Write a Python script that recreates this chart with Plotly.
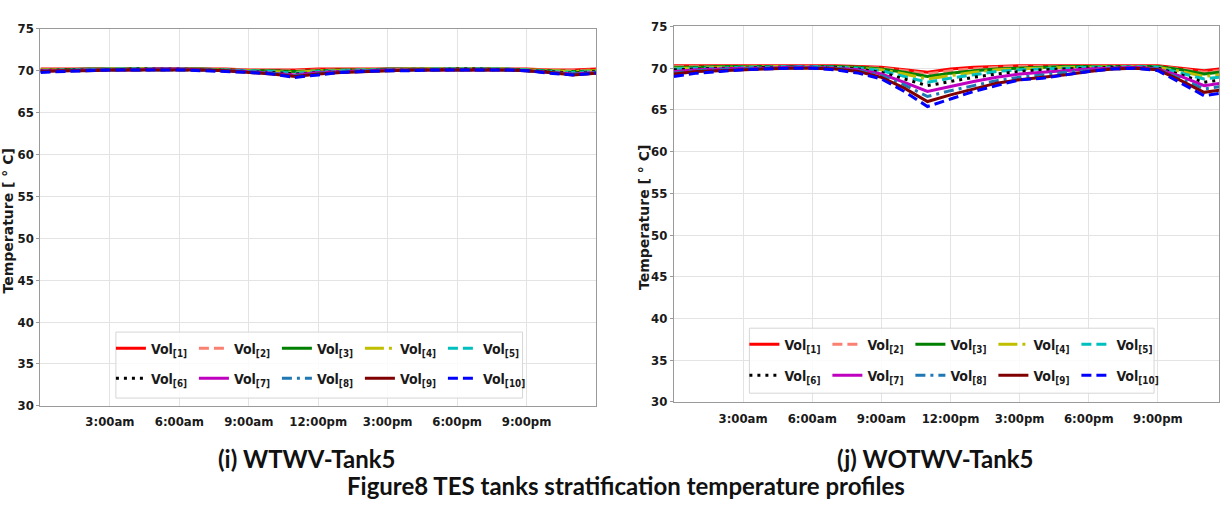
import plotly.graph_objects as go

W, H = 1220, 506

hours = list(range(25))
tick_vals = [3, 6, 9, 12, 15, 18, 21]
tick_text = ["3:00am", "6:00am", "9:00am", "12:00pm", "3:00pm", "6:00pm", "9:00pm"]
y_ticks = [30, 35, 40, 45, 50, 55, 60, 65, 70, 75]
series_names = ["Vol<sub>[%d]</sub>" % i for i in range(1, 11)]

# (i) WTWV-Tank5
wt_v1 = [70.2,70.2,70.2,70.2,70.2,70.2,70.2,70.2,70.2,70.1,70.1,70.1,70.2,70.2,70.2,70.2,70.2,70.2,70.2,70.2,70.2,70.2,70.1,70.1,70.2]
wt_v2 = [70.1,70.2,70.2,70.2,70.2,70.2,70.2,70.2,70.1,70.1,70.0,70.0,70.1,70.1,70.2,70.2,70.2,70.2,70.2,70.2,70.2,70.1,70.1,70.0,70.1]
wt_v3 = [70.1,70.1,70.2,70.2,70.2,70.2,70.2,70.2,70.1,70.0,70.0,69.9,70.0,70.1,70.1,70.2,70.2,70.2,70.2,70.2,70.2,70.1,70.0,69.9,70.0]
wt_v4 = [70.1,70.1,70.1,70.2,70.2,70.2,70.2,70.1,70.1,70.0,69.9,69.8,70.0,70.0,70.1,70.1,70.2,70.2,70.2,70.2,70.2,70.1,70.0,69.9,70.0]
wt_v5 = [70.0,70.1,70.1,70.2,70.2,70.2,70.2,70.1,70.1,70.0,69.9,69.7,69.9,70.0,70.1,70.1,70.1,70.2,70.2,70.2,70.2,70.1,69.9,69.8,69.9]
wt_v6 = [70.0,70.1,70.1,70.1,70.2,70.2,70.2,70.1,70.0,69.9,69.8,69.6,69.8,69.9,70.0,70.1,70.1,70.1,70.2,70.2,70.1,70.0,69.9,69.7,69.9]
wt_v7 = [70.0,70.0,70.1,70.1,70.1,70.2,70.2,70.1,70.0,69.9,69.7,69.5,69.8,69.9,70.0,70.1,70.1,70.1,70.1,70.1,70.1,70.0,69.8,69.6,69.8]
wt_v8 = [69.9,70.0,70.1,70.1,70.1,70.1,70.1,70.1,70.0,69.9,69.7,69.4,69.7,69.9,70.0,70.0,70.1,70.1,70.1,70.1,70.1,70.0,69.8,69.6,69.8]
wt_v9 = [69.9,70.0,70.0,70.1,70.1,70.1,70.1,70.1,70.0,69.8,69.6,69.3,69.6,69.8,69.9,70.0,70.1,70.1,70.1,70.1,70.1,70.0,69.8,69.5,69.7]
wt_v10 = [69.8,69.9,70.0,70.1,70.1,70.1,70.1,70.0,69.9,69.8,69.6,69.2,69.5,69.8,69.9,70.0,70.0,70.1,70.1,70.1,70.1,70.0,69.7,69.5,69.7]

# (j) WOTWV-Tank5
wo_v1 = [70.3,70.3,70.3,70.3,70.3,70.3,70.3,70.3,70.2,70.1,69.8,69.5,69.9,70.1,70.2,70.3,70.3,70.3,70.3,70.3,70.3,70.3,70.0,69.7,70.0]
wo_v2 = [70.2,70.2,70.2,70.2,70.2,70.2,70.2,70.2,70.1,70.0,69.7,69.3,69.7,69.9,70.1,70.2,70.2,70.2,70.2,70.2,70.2,70.2,69.9,69.5,69.8]
wo_v3 = [70.1,70.1,70.2,70.2,70.2,70.2,70.2,70.2,70.1,69.9,69.5,69.0,69.4,69.7,69.9,70.0,70.1,70.2,70.2,70.2,70.2,70.2,69.8,69.3,69.6]
wo_v4 = [70.0,70.0,70.1,70.1,70.2,70.2,70.2,70.1,70.0,69.8,69.3,68.7,69.1,69.5,69.8,69.9,70.0,70.1,70.1,70.2,70.2,70.1,69.6,69.0,69.3]
wo_v5 = [69.9,70.0,70.0,70.1,70.1,70.2,70.2,70.1,70.0,69.7,69.0,68.3,68.8,69.2,69.6,69.8,69.9,70.0,70.1,70.1,70.2,70.1,69.4,68.7,69.0]
wo_v6 = [69.8,69.9,70.0,70.0,70.1,70.1,70.1,70.1,69.9,69.5,68.7,67.9,68.4,68.9,69.3,69.6,69.8,69.9,70.0,70.1,70.1,70.0,69.2,68.3,68.7]
wo_v7 = [69.6,69.8,69.9,70.0,70.0,70.1,70.1,70.0,69.8,69.3,68.3,67.2,67.8,68.4,68.9,69.3,69.5,69.7,69.9,70.0,70.1,69.9,69.0,67.9,68.3]
wo_v8 = [69.4,69.7,69.8,69.9,70.0,70.0,70.1,70.0,69.7,69.1,68.0,66.6,67.3,67.9,68.5,68.9,69.2,69.5,69.7,69.9,70.0,69.9,68.7,67.5,67.9]
wo_v9 = [69.3,69.6,69.7,69.8,69.9,70.0,70.0,69.9,69.6,68.9,67.6,66.0,66.8,67.5,68.2,68.6,68.9,69.2,69.6,69.9,70.0,69.8,68.5,67.1,67.5]
wo_v10 = [69.0,69.4,69.6,69.8,69.9,70.0,70.0,69.8,69.4,68.7,67.2,65.4,66.3,67.2,67.9,68.6,68.8,69.2,69.6,69.9,70.0,69.7,68.2,66.7,67.1]

wt_series = [wt_v1, wt_v2, wt_v3, wt_v4, wt_v5, wt_v6, wt_v7, wt_v8, wt_v9, wt_v10]
wo_series = [wo_v1, wo_v2, wo_v3, wo_v4, wo_v5, wo_v6, wo_v7, wo_v8, wo_v9, wo_v10]

# styles
colors = ["#ff0000", "#fa8072", "#008000", "#bfbf00", "#00bfbf",
          "#000000", "#bf00bf", "#1f77b4", "#800000", "#0000ff"]
dashes = ["solid", "10px,5px", "solid", "19px,5px,3px,5px", "10px,5px",
          "3px,5px", "solid", "10px,5px,3px,5px", "solid", "10px,5px"]

NARROW = "Liberation Sans Narrow, DejaVu Sans Condensed, Arial Narrow, Roboto Condensed, Lato, sans-serif"
tick_font = dict(family=NARROW, size=13, color="#1a1a1a", weight="bold")
leg_font = dict(family=NARROW, size=14, color="#1a1a1a", weight="bold")

fig = go.Figure()

def px_x(p):
    return p / W

def px_y(p):
    return 1 - p / H

legend_ids = [["legend", "legend2"], ["legend3", "legend4"]]
for panel, (series, xa, ya) in enumerate([(wt_series, "x", "y"), (wo_series, "x2", "y2")]):
    for i, vals in enumerate(series):
        fig.add_trace(go.Scatter(
            x=hours, y=vals, mode="lines", name=series_names[i],
            xaxis=xa, yaxis=ya,
            line=dict(color=colors[i], width=3, dash=dashes[i]),
            legend=legend_ids[panel][0 if i < 5 else 1],
            showlegend=True,
        ))

axis_common = dict(
    showgrid=True, gridcolor="#e3e3e3", gridwidth=1,
    showline=True, linecolor="#9a9a9a", linewidth=1, mirror=True,
    tickfont=tick_font, zeroline=False,
)

# pixel geometry
L_x0, L_x1 = 40.5, 596.5
L_ytop, L_ybot = 22.5, 411
R_x0, R_x1 = 674.5, 1220
R_ytop, R_ybot = 20, 407
R_hours = (R_x1 - R_x0) / ((1160 - 814) / 15.0)

fig.update_layout(
    width=W, height=H,
    margin=dict(l=0, r=0, t=0, b=0),
    paper_bgcolor="white", plot_bgcolor="white",
    xaxis=dict(domain=[px_x(L_x0), px_x(L_x1)], range=[0, 24], tickvals=tick_vals,
               ticktext=tick_text, anchor="y", ticks="", ticklabelstandoff=4, **axis_common),
    yaxis=dict(domain=[px_y(L_ybot), px_y(L_ytop)], range=[30, 75], tickvals=y_ticks,
               anchor="x", ticks="outside", ticklen=3, tickcolor="#9a9a9a", **axis_common),
    xaxis2=dict(domain=[px_x(R_x0), 1.0], range=[0, R_hours], tickvals=tick_vals,
                ticktext=tick_text, anchor="y2", ticks="", ticklabelstandoff=4, **axis_common),
    yaxis2=dict(domain=[px_y(R_ybot), px_y(R_ytop)], range=[30, 75], tickvals=y_ticks,
                anchor="x2", ticks="outside", ticklen=3, tickcolor="#9a9a9a", **axis_common),
    showlegend=True,
)

def leg(xp, yp):
    return dict(orientation="h", x=px_x(xp), y=px_y(yp), xanchor="left", yanchor="middle",
                xref="paper", yref="paper",
                entrywidth=38, entrywidthmode="pixels", itemwidth=30,
                bgcolor="rgba(0,0,0,0)", borderwidth=0, font=leg_font,
                traceorder="normal", tracegroupgap=0)

fig.update_layout(
    legend=leg(111, 352),
    legend2=leg(111, 383),
    legend3=leg(745, 348),
    legend4=leg(745, 380),
)

# legend frames
for (x0, x1, y0, y1) in [(116, 523, 335, 403), (750, 1155, 331, 398)]:
    fig.add_shape(type="rect", xref="paper", yref="paper",
                  x0=px_x(x0), x1=px_x(x1), y0=px_y(y1), y1=px_y(y0),
                  line=dict(color="#d6d6d6", width=1), fillcolor="rgba(255,255,255,0.85)",
                  layer="above")

ytitle_font = dict(family="DejaVu Sans", size=14, color="#1a1a1a", weight="bold")
for (xp, yp) in [(8, 220), (644, 217)]:
    fig.add_annotation(text="Temperature [ ° C]", x=px_x(xp), y=px_y(yp), xref="paper",
                       yref="paper", showarrow=False, textangle=-90, font=ytitle_font,
                       xanchor="center", yanchor="middle")

cap_font = dict(family="Lato, Open Sans, sans-serif", size=24, color="#111111", weight="bold")
fig.add_annotation(text="(i) WTWV-Tank5", x=px_x(307), y=px_y(465), xref="paper", yref="paper",
                   showarrow=False, font=cap_font, xanchor="center", yanchor="middle")
fig.add_annotation(text="(j) WOTWV-Tank5", x=px_x(936), y=px_y(465), xref="paper", yref="paper",
                   showarrow=False, font=cap_font, xanchor="center", yanchor="middle")
fig.add_annotation(text="Figure8 TES tanks stratification temperature profiles", x=px_x(627),
                   y=px_y(493), xref="paper", yref="paper",
                   showarrow=False, font=cap_font, xanchor="center", yanchor="middle")

fig.write_html("out.html")
